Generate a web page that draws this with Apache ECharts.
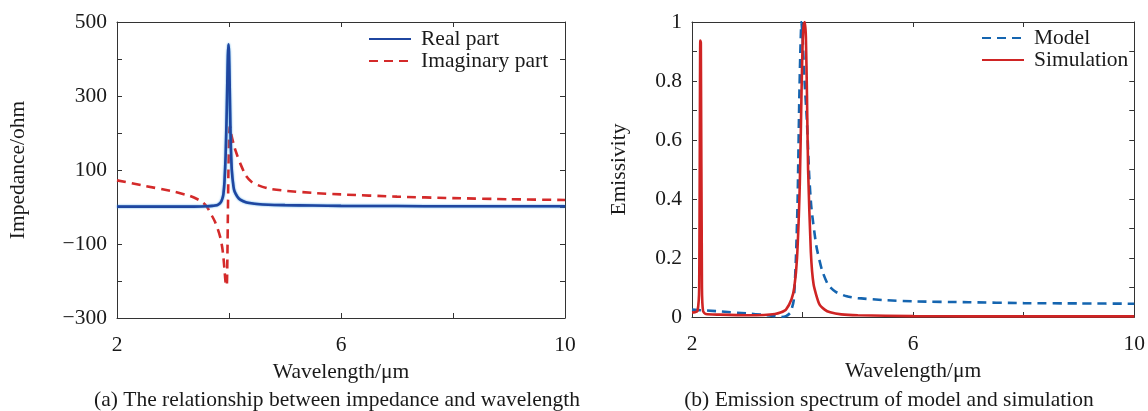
<!DOCTYPE html>
<html>
<head>
<meta charset="utf-8">
<script src="https://cdn.jsdelivr.net/npm/echarts@6/dist/echarts.min.js"></script>
<style>
html,body{margin:0;padding:0;background:#fff;}
#chart{width:1148px;height:411px;}
</style>
</head>
<body>
<div id="chart"></div>
<script>
// ---- Data ----
const wavelengthA = [2, 2.5, 3, 3.3, 3.5, 3.6, 3.7, 3.75, 3.8, 3.85, 3.88, 3.9, 3.92, 3.94, 3.96, 3.97, 3.98, 3.99, 4.0, 4.01, 4.02, 4.03, 4.05, 4.08, 4.1, 4.15, 4.2, 4.3, 4.4, 4.5, 4.7, 5, 5.5, 6, 7, 8, 9, 10];
const realPart = [1, 1, 1, 1, 1.5, 2, 3, 4, 6, 12, 22, 35, 70, 140, 260, 340, 410, 440, 420, 350, 260, 180, 100, 55, 42, 28, 20, 13, 10, 8, 6, 5, 4, 3, 2.5, 2, 2, 2];
const imagPart = [72, 57, 42, 30, 16, 2, -25, -40, -60, -85, -110, -135, -170, -205, -213, -150, -20, 100, 180, 215, 218, 205, 190, 172, 160, 138, 118, 85, 68, 60, 50, 44, 38, 34, 28, 24, 21, 19];

const wavelengthModel = [2, 2.5, 3, 3.3, 3.5, 3.6, 3.7, 3.78, 3.84, 3.88, 3.91, 3.94, 3.96, 3.98, 4.0, 4.03, 4.08, 4.12, 4.16, 4.25, 4.35, 4.46, 4.6, 4.8, 5, 5.5, 6, 7, 8, 9, 10];
const model = [0.025, 0.019, 0.012, 0.007, 0.003, 0.0, 0.003, 0.015, 0.056, 0.2, 0.39, 0.73, 0.9, 1.0, 0.95, 0.82, 0.66, 0.48, 0.37, 0.24, 0.16, 0.11, 0.085, 0.07, 0.064, 0.057, 0.053, 0.05, 0.047, 0.046, 0.045];

const wavelengthSim = [2, 2.05, 2.1, 2.13, 2.15, 2.16, 2.18, 2.2, 2.25, 2.5, 3, 3.3, 3.5, 3.6, 3.7, 3.8, 3.85, 3.9, 3.95, 3.98, 4.0, 4.02, 4.04, 4.06, 4.08, 4.1, 4.15, 4.2, 4.3, 4.4, 4.5, 4.7, 5, 6, 7, 8, 9, 10];
const simulation = [0.015, 0.016, 0.02, 0.1, 0.937, 0.93, 0.1, 0.02, 0.01, 0.008, 0.006, 0.007, 0.01, 0.015, 0.025, 0.06, 0.1, 0.2, 0.45, 0.75, 0.92, 0.99, 1.0, 0.95, 0.75, 0.5, 0.22, 0.11, 0.045, 0.025, 0.016, 0.009, 0.006, 0.003, 0.002, 0.002, 0.002, 0.002];

const xTickLabels = [2, 6, 10];
const yTickLabelsA = [500, 300, 100, -100, -300];
const yTickLabelsB = [0, 0.2, 0.4, 0.6, 0.8, 1];

const seriesNames = ['Real part', 'Imaginary part', 'Model', 'Simulation'];
const captions = ['(a) The relationship between impedance and wavelength', '(b) Emission spectrum of model and simulation'];

// ---- Chart ----
const FONT = 'Liberation Serif';
const FS = 21.5;
const TXT = '#1a1a1a';
const AX = '#333';

function zip(xs, ys) { return xs.map((x, i) => [x, ys[i]]); }
function showIn(list) {
  return function (v) {
    for (const t of list) {
      if (Math.abs(v - t) < 1e-6) return (t < 0 ? '\u2212' + Math.abs(t) : String(t));
    }
    return '';
  };
}

function mkX(grid, pos, labels) {
  return {
    gridIndex: grid, type: 'value', min: 2, max: 10, interval: 2, position: pos,
    axisLine: { show: true, onZero: false, lineStyle: { color: AX, width: 1 } },
    axisTick: { show: true, inside: true, length: 5, lineStyle: { color: AX } },
    splitLine: { show: false },
    axisLabel: labels ? { show: true, formatter: showIn(xTickLabels), fontFamily: FONT, fontSize: FS, color: TXT, margin: 16 } : { show: false },
    name: labels ? 'Wavelength/\u03bcm' : '',
    nameLocation: 'middle', nameGap: 43,
    nameTextStyle: { fontFamily: FONT, fontSize: FS, color: TXT }
  };
}
function mkY(grid, pos, min, max, interval, labels, name, nameGap) {
  return {
    gridIndex: grid, type: 'value', min: min, max: max, interval: interval, position: pos,
    axisLine: { show: true, onZero: false, lineStyle: { color: AX, width: 1 } },
    axisTick: { show: true, inside: true, length: 5, lineStyle: { color: AX } },
    splitLine: { show: false },
    axisLabel: labels ? { show: true, formatter: showIn(labels), fontFamily: FONT, fontSize: FS, color: TXT, margin: 10 } : { show: false },
    name: name || '', nameLocation: 'middle', nameGap: nameGap || 0,
    nameTextStyle: { fontFamily: FONT, fontSize: FS, color: TXT }
  };
}

const chart = echarts.init(document.getElementById('chart'), null, { renderer: 'canvas' });
const legendCommon = {
  orient: 'vertical', itemWidth: 42, itemHeight: 14, itemGap: 0, padding: 0,
  itemStyle: { opacity: 0 },
  textStyle: { fontFamily: FONT, fontSize: FS, color: TXT, padding: [0, 0, 0, 5], lineHeight: 20 },
  selectedMode: false
};
chart.setOption({
  animation: false,
  backgroundColor: '#fff',
  grid: [
    { left: 117, top: 22, width: 448, height: 296 },
    { left: 692, top: 22, width: 448, height: 295 }
  ],
  xAxis: [mkX(0, 'bottom', true), mkX(0, 'top', false), mkX(1, 'bottom', true), mkX(1, 'top', false)],
  yAxis: [
    mkY(0, 'left', -300, 500, 100, yTickLabelsA, 'Impedance/ohm', 88),
    mkY(0, 'right', -300, 500, 100, null),
    mkY(1, 'left', 0, 1, 0.1, yTickLabelsB, 'Emissivity', 62),
    mkY(1, 'right', 0, 1, 0.1, null)
  ],
  legend: [
    Object.assign({ data: [seriesNames[0], seriesNames[1]], left: 368, top: 28 }, legendCommon),
    Object.assign({ data: [seriesNames[2], seriesNames[3]], left: 981, top: 27 }, legendCommon)
  ],
  series: [
    { name: seriesNames[0], type: 'line', xAxisIndex: 0, yAxisIndex: 0, data: zip(wavelengthA, realPart),
      showSymbol: false, symbol: 'none', smooth: 0.2, z: 3,
      lineStyle: { color: '#1f46a0', width: 2.6, shadowColor: 'rgba(50,150,225,0.9)', shadowBlur: 2 }, itemStyle: { color: '#1f46a0' } },
    { name: seriesNames[1], type: 'line', xAxisIndex: 0, yAxisIndex: 0, data: zip(wavelengthA, imagPart),
      showSymbol: false, symbol: 'none', smooth: 0.2, z: 2,
      lineStyle: { color: '#d42a2a', width: 2.6, type: [9, 6] }, itemStyle: { color: '#d42a2a' } },
    { name: seriesNames[2], type: 'line', xAxisIndex: 2, yAxisIndex: 2, data: zip(wavelengthModel, model),
      showSymbol: false, symbol: 'none', smooth: 0.2, z: 2,
      lineStyle: { color: '#1565b0', width: 2.6, type: [9, 6] }, itemStyle: { color: '#1565b0' } },
    { name: seriesNames[3], type: 'line', xAxisIndex: 2, yAxisIndex: 2, data: zip(wavelengthSim, simulation),
      showSymbol: false, symbol: 'none', smooth: 0.2, z: 3,
      lineStyle: { color: '#cf2424', width: 2.6 }, itemStyle: { color: '#cf2424' } }
  ],
  graphic: [
    { type: 'text', x: 337, y: 400, style: { text: captions[0], fontFamily: FONT, fontSize: FS, fill: TXT, textAlign: 'center', textVerticalAlign: 'middle' } },
    { type: 'text', x: 889, y: 400, style: { text: captions[1], fontFamily: FONT, fontSize: FS, fill: TXT, textAlign: 'center', textVerticalAlign: 'middle' } }
  ]
});
</script>
</body>
</html>
